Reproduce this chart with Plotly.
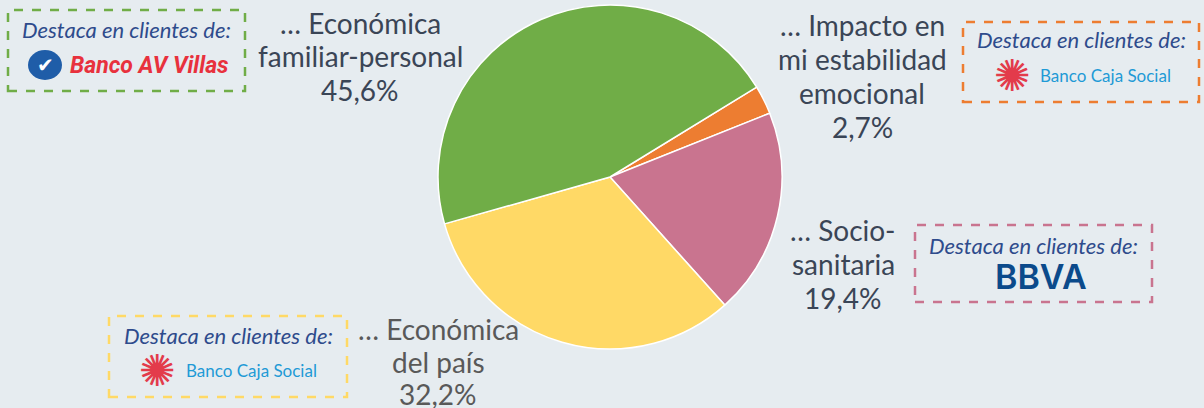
import plotly.graph_objects as go

# ---- data ----
categories = ["... Impacto en mi estabilidad emocional", "... Socio-sanitaria",
              "... Económica del país", "... Económica familiar-personal"]
values = [2.7, 19.4, 32.2, 45.6]
colors = ["#ED7D31", "#C9748F", "#FFD966", "#70AD47"]
label_lines = [["… Impacto en", "mi estabilidad", "emocional"],
               ["… Socio-", "sanitaria"],
               ["… Económica", "del país"],
               ["… Económica", "familiar-personal"]]
box_title = "Destaca en clientes de:"
banks = ["Banco Caja Social", "BBVA", "Banco Caja Social", "Banco AV Villas"]

W, H = 1204, 408
BG = "#E6ECF0"


def px(x):
    return x / W


def py(y):
    return 1 - y / H


fig = go.Figure()

cx, cy, r = 610, 177, 172
fig.add_trace(go.Pie(
    labels=categories, values=values, sort=False, direction="clockwise",
    rotation=58.5, textinfo="none", hoverinfo="label+percent",
    marker=dict(colors=colors, line=dict(color="white", width=1.5)),
    domain=dict(x=[px(cx - r), px(cx + r)], y=[py(cy + r), py(cy - r)]),
    showlegend=False,
))

ann = []
shapes = []


def fmt(v):
    return f"{v:.1f}".replace(".", ",") + "%"


# outside labels: (center x, first line y, line spacing, color)
label_pos = [(862, 25, 34, "#3A4556"), (843, 230, 34, "#3A4556"),
             (438, 329, 32.5, "#595959"), (360, 23, 33.5, "#3A4556")]
for lines, v, (x, y0, dy, c) in zip(label_lines, values, label_pos):
    for i, line in enumerate(lines + [fmt(v)]):
        ann.append(dict(x=px(x), y=py(y0 + i * dy), xref="paper", yref="paper",
                        text=line, showarrow=False,
                        xanchor="center", yanchor="middle", align="center",
                        font=dict(family="Lato", size=28, color=c)))

# boxes: (x0, y0, x1, y1)
boxes = [(963, 22, 1199, 102), (915, 225, 1152, 302),
         (109, 316, 347, 397), (8, 10, 245, 91)]
title_y = [40, 245, 335, 30]
for (x0, y0, x1, y1), col, ty in zip(boxes, colors, title_y):
    shapes.append(dict(type="rect", xref="paper", yref="paper",
                       x0=px(x0), x1=px(x1), y0=py(y1), y1=py(y0),
                       line=dict(color=col, width=2.5, dash="dash"),
                       fillcolor="rgba(0,0,0,0)"))
    ann.append(dict(x=px((x0 + x1) / 2), y=py(ty), xref="paper", yref="paper",
                    text=f"<i>{box_title}</i>", showarrow=False,
                    xanchor="center", yanchor="middle",
                    font=dict(family="Lato", size=22, color="#2E4B8C")))

# logos as text
# Caja Social (orange box & yellow box)
for fx, fy, tx in [(1012, 75, 1038), (157, 370, 184)]:
    ann.append(dict(x=px(fx), y=py(fy), xref="paper", yref="paper",
                    text="✺", showarrow=False, xanchor="center", yanchor="middle",
                    font=dict(family="DejaVu Sans", size=44, color="#E33B4B")))
    ann.append(dict(x=px(tx), y=py(fy), xref="paper", yref="paper",
                    text=banks[0], showarrow=False, xanchor="left", yanchor="middle",
                    font=dict(family="Lato", size=17, color="#1E9AD6")))

# BBVA
ann.append(dict(x=px(1041), y=py(276), xref="paper", yref="paper",
                text=banks[1], showarrow=False,
                xanchor="center", yanchor="middle",
                font=dict(family="Inter", size=34, weight=600, color="#0B4A8B")))

# AV Villas
shapes.append(dict(type="circle", xref="paper", yref="paper",
                   x0=px(28), x1=px(62), y0=py(80), y1=py(50),
                   fillcolor="#1F5DA8", line=dict(width=0)))
ann.append(dict(x=px(45), y=py(65), xref="paper", yref="paper",
                text="✔", showarrow=False, xanchor="center", yanchor="middle",
                font=dict(family="DejaVu Sans", size=20, color="white")))
ann.append(dict(x=px(68), y=py(66), xref="paper", yref="paper",
                text="<b><i>" + banks[3] + "</i></b>", showarrow=False,
                xanchor="left", yanchor="middle",
                font=dict(family="Roboto", size=23, color="#E8313D")))

fig.update_layout(
    width=W, height=H, margin=dict(l=0, r=0, t=0, b=0),
    paper_bgcolor=BG, plot_bgcolor=BG,
    annotations=ann, shapes=shapes,
)

fig.write_html("out.html", config={"displayModeBar": False},
               post_script="document.body.style.margin='0';"
                           "document.body.style.background='" + BG + "';")
